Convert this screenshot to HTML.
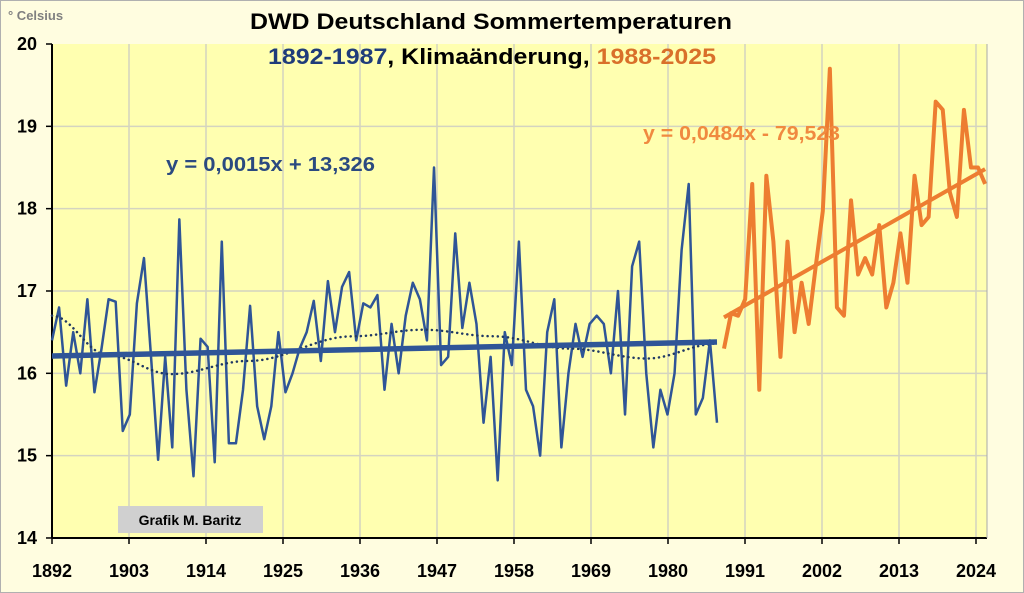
<!DOCTYPE html>
<html><head><meta charset="utf-8"><style>
body{margin:0;background:#fff;}
svg{display:block;font-family:"Liberation Sans",Arial,sans-serif;}
</style></head><body>
<svg id="s" width="1024" height="593" xmlns="http://www.w3.org/2000/svg">
<rect x="0.5" y="0.5" width="1023" height="592" fill="#fffde0" stroke="#b0b0b0"/>
<rect x="52" y="44" width="935" height="494" fill="#ffffb0"/>
<g id="grid" stroke="#d4d4c0" stroke-width="1.5"></g>
<line x1="52" y1="44" x2="52" y2="538" stroke="#000" stroke-width="2"/>
<line x1="52" y1="538" x2="987" y2="538" stroke="#000" stroke-width="2"/>
<line x1="987" y1="44" x2="987" y2="538" stroke="#aaa" stroke-width="1"/>
<g id="ticks" stroke="#000" stroke-width="1.5"></g>
<g id="lbl" font-weight="bold" font-size="18" fill="#000"></g>
<text x="8" y="20" font-size="13" font-weight="bold" fill="#808080">° Celsius</text>
<text x="491" y="29" font-size="22" font-weight="bold" text-anchor="middle" fill="#000" textLength="482" lengthAdjust="spacingAndGlyphs">DWD Deutschland Sommertemperaturen</text>
<text x="492" y="64" font-size="22" font-weight="bold" text-anchor="middle" textLength="448" lengthAdjust="spacingAndGlyphs"><tspan fill="#1f3c7a">1892-1987</tspan><tspan fill="#000">, Klimaänderung, </tspan><tspan fill="#d9702a">1988-2025</tspan></text>
<text x="166" y="171" font-size="20" font-weight="bold" fill="#2b4a80" textLength="209" lengthAdjust="spacingAndGlyphs">y = 0,0015x + 13,326</text>
<g id="series"></g>
<text x="643" y="140" font-size="20" font-weight="bold" fill="#f08a40" textLength="197" lengthAdjust="spacingAndGlyphs">y = 0,0484x - 79,523</text>
<rect x="118" y="506" width="145" height="27" fill="#d0d0d0"/>
<text x="190" y="525" font-size="14" font-weight="bold" text-anchor="middle" fill="#000">Grafik M. Baritz</text>
</svg>
<script>
const NS="http://www.w3.org/2000/svg";
const X=y=>52+(y-1892)*7, Y=v=>44+(20-v)*82.33;
function el(p,t,a){const e=document.createElementNS(NS,t);for(const k in a)e.setAttribute(k,a[k]);document.getElementById(p).appendChild(e);return e;}
for(let v=15;v<=19;v++)el("grid","line",{x1:52,x2:987,y1:Y(v),y2:Y(v)});
for(let yr=1903;yr<=2024;yr+=11){const x=X(yr);el("grid","line",{x1:x,x2:x,y1:44,y2:538});}
for(let v=14;v<=20;v++){el("ticks","line",{x1:46,x2:52,y1:Y(v),y2:Y(v)});const t=el("lbl","text",{x:37,y:Y(v)+6,"text-anchor":"end"});t.textContent=v;}
for(let yr=1892;yr<=2024;yr+=11){const x=X(yr);el("ticks","line",{x1:x,x2:x,y1:538,y2:544});const t=el("lbl","text",{x:x,y:577,"text-anchor":"middle"});t.textContent=yr;}
const blue=[16.4,16.8,15.85,16.5,16.0,16.9,15.77,16.3,16.9,16.87,15.3,15.5,16.85,17.4,16.2,14.95,16.2,15.1,17.87,15.8,14.75,16.42,16.32,14.92,17.6,15.15,15.15,15.8,16.82,15.6,15.2,15.6,16.5,15.77,16.0,16.3,16.5,16.88,16.15,17.12,16.5,17.05,17.23,16.4,16.85,16.8,16.95,15.8,16.6,16.0,16.7,17.1,16.9,16.4,18.5,16.1,16.2,17.7,16.55,17.1,16.6,15.4,16.2,14.7,16.5,16.1,17.6,15.8,15.6,15.0,16.5,16.9,15.1,16.0,16.6,16.2,16.6,16.7,16.6,16.0,17.0,15.5,17.3,17.6,16.0,15.1,15.8,15.5,16.0,17.5,18.3,15.5,15.7,16.4,15.4];
const orange=[16.3,16.73,16.7,16.9,18.3,15.8,18.4,17.6,16.2,17.6,16.5,17.1,16.6,17.3,17.97,19.7,16.8,16.7,18.1,17.2,17.4,17.2,17.8,16.8,17.1,17.7,17.1,18.4,17.8,17.9,19.3,19.2,18.2,17.9,19.2,18.5,18.5,18.3];
const bstep=(1987-1892)/(blue.length-1);
let pb=blue.map((v,i)=>X(1892+i*bstep)+","+Y(v)).join(" ");
let po=orange.map((v,i)=>X(1988+i*(37.3/(orange.length-1)))+","+Y(v)).join(" ");
const pk=[[1892,16.7],[1900,16.22],[1909,15.99],[1920,16.15],[1935,16.45],[1945,16.53],[1955,16.45],[1966,16.3],[1977,16.18],[1987,16.36]];
let pts=[];for(let yr=1892;yr<=1987;yr+=0.5){let i=0;while(i<pk.length-2&&yr>pk[i+1][0])i++;const a=pk[i],b=pk[i+1];const t=(yr-a[0])/(b[0]-a[0]);const s=(1-Math.cos(Math.PI*t))/2;pts.push(X(yr)+","+Y(a[1]+(b[1]-a[1])*s));}
el("series","polyline",{points:pb,fill:"none",stroke:"#2f5597","stroke-width":2.5,"stroke-linejoin":"round"});
el("series","polyline",{points:pts.join(" "),fill:"none",stroke:"#1f3864","stroke-width":2.5,"stroke-dasharray":"0.1 5","stroke-linecap":"round"});
el("series","line",{x1:X(1892),y1:Y(16.21),x2:X(1987),y2:Y(16.38),stroke:"#2f5597","stroke-width":5.5});
el("series","polyline",{points:po,fill:"none",stroke:"#ed7d31","stroke-width":4,"stroke-linejoin":"round"});
el("series","line",{x1:X(1988),y1:Y(16.68),x2:X(2025.3),y2:Y(18.48),stroke:"#ed7d31","stroke-width":4});
</script>
</body></html>
